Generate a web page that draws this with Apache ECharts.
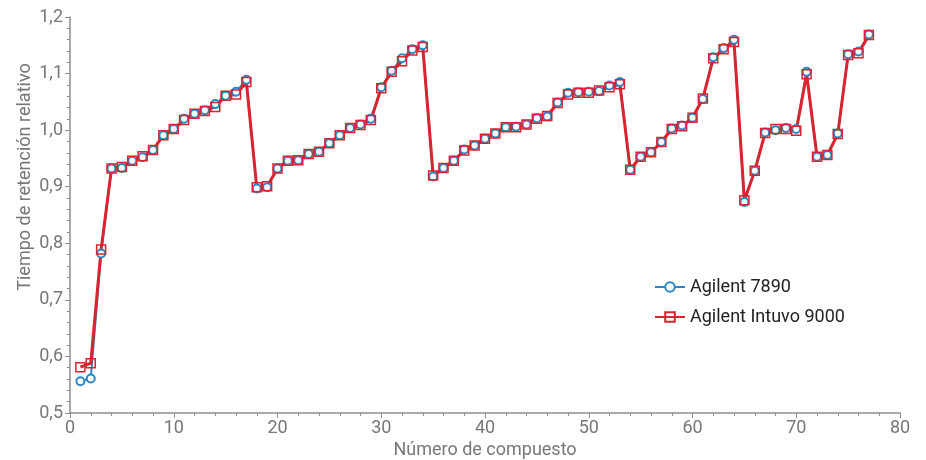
<!DOCTYPE html>
<html><head><meta charset="utf-8">
<script src="https://cdn.jsdelivr.net/npm/echarts@6/dist/echarts.min.js"></script>
<style>html,body{margin:0;padding:0;background:#fff}#c{width:926px;height:460px}</style>
</head><body><div id="c"></div>
<script>
const compounds = Array.from({length:77},(_,i)=>i+1);
const agilent7890 = [0.556,0.561,0.782,0.932,0.933,0.946,0.952,0.965,0.991,1.002,
1.020,1.029,1.035,1.046,1.061,1.068,1.089,0.897,0.899,0.932,
0.946,0.947,0.958,0.962,0.977,0.991,1.004,1.010,1.020,1.076,
1.105,1.127,1.143,1.150,0.918,0.933,0.946,0.966,0.973,0.985,
0.994,1.005,1.006,1.010,1.021,1.024,1.049,1.066,1.067,1.068,
1.069,1.079,1.085,0.930,0.953,0.961,0.979,1.003,1.008,1.022,
1.055,1.129,1.145,1.160,0.873,0.928,0.996,1.000,1.004,1.002,
1.103,0.953,0.956,0.994,1.134,1.139,1.169];
const intuvo9000 = [0.581,0.588,0.789,0.932,0.935,0.946,0.954,0.965,0.991,1.002,
1.018,1.029,1.034,1.041,1.061,1.063,1.085,0.899,0.901,0.932,
0.946,0.947,0.958,0.962,0.977,0.991,1.004,1.009,1.018,1.074,
1.103,1.122,1.141,1.147,0.920,0.933,0.946,0.964,0.973,0.985,
0.994,1.005,1.005,1.010,1.020,1.025,1.048,1.063,1.066,1.066,
1.070,1.076,1.081,0.930,0.953,0.961,0.979,1.002,1.007,1.022,
1.056,1.127,1.143,1.156,0.876,0.928,0.995,1.002,1.002,0.999,
1.099,0.953,0.956,0.993,1.133,1.136,1.168];
const seriesNames = ['Agilent 7890','Agilent Intuvo 9000'];
const xTitle = 'Número de compuesto';
const yTitle = 'Tiempo de retención relativo';

const chart = echarts.init(document.getElementById('c'));
const axisGray = '#8e8e8e';
const labelGray = '#777777';
const font = 'Roboto';
chart.setOption({
  animation:false,
  textStyle:{fontFamily:font},
  grid:{left:70,right:26,top:17,bottom:47,containLabel:false,outerBoundsMode:'none'},
  legend:{
    orient:'vertical', left:649, top:273, itemGap:12, itemWidth:30, itemHeight:12,
    textStyle:{fontSize:18,color:'#222',fontFamily:font},
    data:seriesNames
  },
  xAxis:{
    type:'value', min:0, max:80, interval:10,
    name:xTitle, nameLocation:'middle', nameGap:28,
    nameTextStyle:{fontSize:18,color:labelGray},
    axisLine:{show:true,lineStyle:{color:axisGray,width:1.5}},
    axisTick:{show:true,length:5,lineStyle:{color:axisGray}},
    minorTick:{show:true,splitNumber:5,length:3,lineStyle:{color:axisGray}},
    axisLabel:{fontSize:18,color:labelGray,margin:6},
    splitLine:{show:false}
  },
  yAxis:{
    type:'value', min:0.5, max:1.2, interval:0.1,
    name:yTitle, nameLocation:'middle', nameGap:36, nameMoveOverlap:false,
    nameTextStyle:{fontSize:18,color:labelGray,padding:[0,0,0,76]},
    axisLine:{show:true,lineStyle:{color:axisGray,width:1.5}},
    axisTick:{show:true,length:5,lineStyle:{color:axisGray}},
    minorTick:{show:true,splitNumber:5,length:3,lineStyle:{color:axisGray}},
    axisLabel:{fontSize:18,color:labelGray,margin:7,formatter:v=>v.toFixed(1).replace('.',',')},
    splitLine:{show:false}
  },
  series:[
    {name:seriesNames[0], type:'line', data:compounds.map((x,i)=>[x,agilent7890[i]]),
     symbol:'emptyCircle', symbolSize:8, color:'#2b86c9',
     lineStyle:{width:2,color:'#2b86c9'}, itemStyle:{color:'#2b86c9',borderWidth:1.5}},
    {name:seriesNames[1], type:'line', data:compounds.map((x,i)=>[x,intuvo9000[i]]),
     symbol:'rect', symbolSize:9, color:'#d9232e',
     lineStyle:{width:3,color:'#d9232e'}, itemStyle:{color:'rgba(255,255,255,0)',borderColor:'#d9232e',borderWidth:1.5}}
  ]
});
</script></body></html>
